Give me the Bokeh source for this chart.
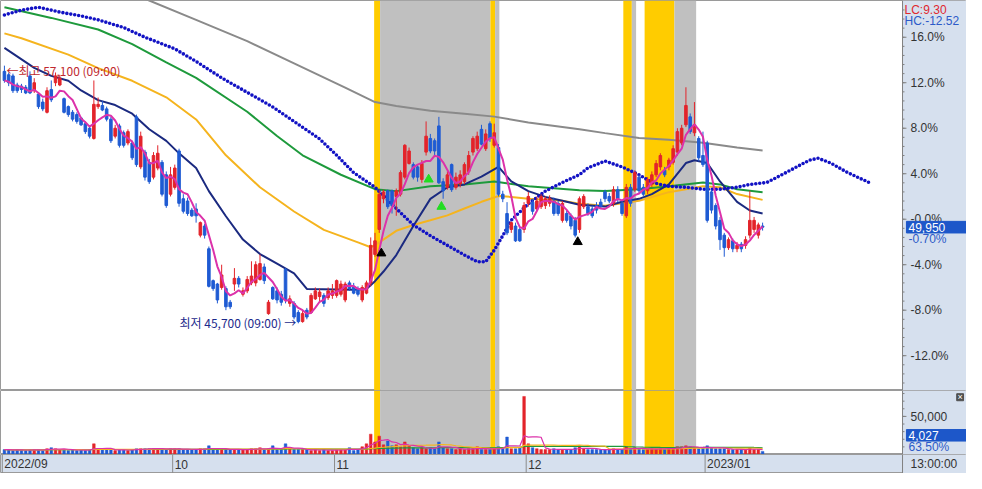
import pandas as pd
from bokeh.plotting import figure
from bokeh.layouts import column
from bokeh.models import Range1d, BoxAnnotation, Span, ColumnDataSource
from bokeh.embed import file_html
from bokeh.resources import INLINE
from bokeh.core.properties import value

# ---------------- data (percent change vs. base price) ----------------
opens = [13.0, 12.7, 12.6, 11.8, 11.7, 11.6, 12.6, 11.3, 11.0, 10.3,
         9.4, 11.4, 12.0, 11.8, 10.6, 9.9, 9.4, 9.2, 8.9, 8.4,
         8.0, 7.1, 9.9, 10.0, 9.7, 8.8, 7.3, 8.2, 7.6, 6.7,
         6.7, 9.0, 4.6, 5.9, 5.0, 3.7, 4.5, 5.0, 3.9, 2.2,
         2.8, 6.0, 1.8, 1.6, 0.8, 0.9, -1.4, -0.6, -2.6, -5.4,
         -5.7, -6.0, -6.1, -7.3, -5.7, -5.2, -6.6, -6.3, -5.6, -5.6,
         -5.3, -4.2, -8.3, -6.0, -6.3, -6.6, -4.4, -7.4, -7.4, -8.2,
         -9.0, -8.0, -8.2, -7.0, -6.8, -6.7, -6.9, -6.7, -6.7, -6.6,
         -7.1, -5.6, -5.9, -6.1, -7.1, -6.5, -5.6, -3.1, -0.9, 1.8,
         2.5, 2.5, 2.0, 2.2, 3.7, 4.9, 4.8, 4.6, 3.5, 5.9,
         7.1, 6.9, 8.2, 3.3, 2.8, 4.8, 2.8, 3.1, 3.3, 4.2,
         5.9, 6.2, 7.9, 6.2, 8.4, 6.5, 6.3, 2.2, 0.5, -0.9,
         -0.6, -0.9, -0.9, 1.4, 1.5, 0.9, 1.1, 1.2, 1.4, 1.6,
         1.4, -0.1, 0.5, 0.3, -0.1, -0.9, 1.1, 1.1, 0.9, 1.2,
         1.5, 2.4, 2.0, 1.4, 2.6, 1.4, 0.3, 2.8, 2.6, 3.7,
         2.8, 2.5, 3.1, 3.9, 4.6, 4.3, 4.6, 5.0, 5.9, 6.7,
         8.3, 9.0, 7.6, 7.1, 5.6, 6.7, 2.4, 1.2, -0.1, -1.4,
         -2.5, -1.9, -2.6, -2.2, -2.3, -1.4, -0.9, -1.4, -0.6]
highs = [13.5, 12.9, 12.8, 12.0, 11.9, 11.8, 13.0, 12.4, 11.1, 10.6,
         11.6, 12.2, 12.9, 12.7, 10.7, 10.0, 9.6, 9.4, 9.0, 8.6,
         8.2, 12.2, 10.7, 10.4, 9.9, 9.0, 8.3, 8.4, 7.8, 7.9,
         6.9, 9.2, 7.7, 6.1, 5.3, 5.9, 6.5, 5.2, 4.2, 4.6,
         4.8, 6.2, 2.2, 1.9, 1.0, 1.4, -0.2, -0.4, -2.4, -5.3,
         -5.6, -4.0, -5.9, -7.1, -4.3, -5.0, -6.0, -5.0, -3.7, -3.7,
         -3.1, -3.9, -7.1, -5.9, -6.0, -6.3, -4.3, -6.7, -7.2, -8.0,
         -8.0, -7.8, -6.5, -6.0, -6.1, -6.5, -6.0, -5.7, -5.3, -5.4,
         -5.5, -5.4, -5.6, -5.9, -5.8, -5.4, -1.6, -1.2, 2.6, 2.6,
         2.6, 2.6, 2.7, 4.3, 6.6, 6.3, 5.0, 4.8, 5.2, 8.6,
         7.5, 7.1, 9.0, 3.6, 4.2, 4.9, 4.1, 4.3, 5.0, 6.0,
         7.3, 7.7, 8.3, 7.9, 8.6, 8.4, 6.6, 2.5, 1.5, -0.2,
         -0.3, -0.7, 1.5, 2.4, 1.8, 2.0, 2.2, 2.0, 2.1, 1.9,
         1.6, 1.6, 0.8, 0.5, 0.2, 2.0, 2.2, 1.4, 1.2, 1.5,
         1.8, 2.6, 2.3, 2.9, 2.9, 1.6, 3.1, 3.1, 4.3, 3.9,
         3.1, 3.7, 4.2, 5.2, 5.8, 4.6, 5.4, 6.5, 8.0, 8.3,
         11.6, 9.3, 10.3, 7.3, 7.7, 6.9, 2.6, 1.4, 0.2, -1.2,
         -1.6, -1.7, -2.0, -2.0, -1.5, 2.5, 0.2, -0.3, -0.3]
lows = [12.0, 11.7, 11.1, 11.1, 11.1, 11.0, 11.0, 11.1, 9.7, 9.5,
        9.3, 10.3, 11.7, 11.7, 9.3, 9.0, 8.6, 8.4, 8.2, 7.5,
        7.1, 7.0, 9.7, 9.5, 8.6, 6.7, 7.1, 6.3, 6.3, 6.5,
        5.2, 4.6, 4.4, 3.4, 3.1, 3.5, 4.3, 2.0, 1.0, 2.0,
        2.6, 1.1, 0.5, 0.3, 0.2, -0.3, -1.6, -1.7, -6.0, -6.3,
        -7.4, -6.2, -8.0, -7.9, -6.3, -6.0, -6.8, -6.5, -5.8, -5.9,
        -5.4, -5.7, -8.4, -7.1, -7.4, -7.6, -7.4, -7.7, -8.8, -9.15,
        -9.1, -8.8, -8.3, -7.1, -7.3, -7.7, -7.1, -7.0, -6.9, -6.8,
        -7.3, -6.3, -6.6, -6.8, -7.3, -6.6, -5.9, -3.3, -1.2, 1.4,
        0.9, 0.5, 0.3, 2.0, 3.5, 4.8, 3.5, 3.3, 3.2, 5.6,
        5.8, 5.6, 3.1, 1.8, 2.6, 2.4, 2.6, 2.8, 3.1, 3.9,
        5.6, 6.0, 6.5, 6.0, 6.8, 6.3, 2.0, 1.5, -1.4, -1.2,
        -2.0, -2.0, -1.2, 1.1, 0.4, 0.7, 0.9, 0.9, 1.1, 0.3,
        0.3, -0.3, -0.3, -0.9, -1.6, -1.2, 0.9, 0.3, 0.1, 0.5,
        0.9, 1.5, 1.4, 1.1, 1.5, 0.3, 0.1, 1.1, 2.4, 2.2,
        2.0, 2.2, 2.8, 3.7, 4.3, 3.7, 4.3, 4.8, 5.6, 6.5,
        8.1, 7.5, 7.3, 5.1, 4.6, -0.3, 0.5, -0.9, -2.7, -3.3,
        -2.7, -2.9, -2.9, -2.9, -2.6, -1.7, -1.2, -1.7, -1.0]
closes = [12.2, 12.0, 11.3, 11.3, 11.4, 11.1, 11.1, 12.0, 9.9, 9.7,
          11.3, 10.5, 12.6, 12.4, 9.4, 9.2, 8.8, 8.6, 8.3, 7.7,
          7.3, 10.1, 10.1, 9.6, 8.8, 6.9, 8.0, 6.5, 6.5, 7.7,
          5.4, 4.8, 7.3, 3.7, 3.3, 5.6, 5.8, 2.2, 1.2, 3.9,
          4.5, 1.4, 0.7, 0.5, 0.3, 0.3, -0.3, -1.4, -5.9, -6.1,
          -7.1, -4.9, -7.7, -7.7, -5.2, -5.7, -6.3, -5.3, -5.0, -4.0,
          -3.9, -5.4, -7.3, -7.0, -7.1, -7.3, -7.1, -7.0, -8.6, -9.0,
          -8.3, -8.6, -6.7, -6.3, -6.4, -7.4, -6.3, -6.3, -5.4, -5.7,
          -5.7, -6.1, -6.5, -6.6, -6.0, -5.6, -2.3, -1.9, 2.2, 2.4,
          1.1, 1.2, 2.5, 4.1, 6.5, 6.0, 3.7, 3.7, 4.9, 7.3,
          6.0, 6.0, 3.2, 2.5, 3.9, 2.6, 3.7, 3.9, 4.8, 5.6,
          7.1, 7.3, 6.6, 7.5, 7.1, 7.6, 2.2, 1.8, -1.2, -0.3,
          -1.9, -1.9, 1.2, 2.0, 0.7, 1.6, 2.0, 1.8, 1.8, 0.5,
          0.5, 1.4, -0.1, -0.6, -1.4, 1.8, 2.0, 0.5, 0.3, 0.8,
          1.1, 1.8, 1.6, 2.6, 1.8, 0.5, 2.8, 1.4, 4.1, 2.5,
          2.2, 3.5, 3.9, 4.9, 5.6, 3.9, 5.2, 6.2, 7.7, 8.0,
          10.0, 7.7, 8.3, 5.4, 4.8, -0.1, 0.8, -0.6, -1.8, -2.5,
          -1.8, -2.6, -2.3, -2.6, -1.8, -0.1, -0.1, -0.5, -0.7]
volumes = [6400, 6400, 5100, 6400, 6400, 5100, 6400, 6400, 6400, 5100,
           7600, 8900, 7600, 6400, 6400, 5100, 6400, 5100, 6400, 5100,
           6400, 14000, 7600, 6400, 6400, 6400, 5100, 6400, 6400, 5100,
           6400, 7600, 7600, 7600, 7600, 7600, 7600, 7600, 6400, 7600,
           7600, 7600, 6400, 6400, 6400, 6400, 7600, 7600, 11400, 6400,
           6400, 7600, 6400, 6400, 6400, 6400, 6400, 6400, 7600, 7600,
           8900, 6400, 7600, 11400, 6400, 7600, 14000, 7600, 6400, 6400,
           6400, 6400, 5100, 6400, 5100, 6400, 5100, 5100, 6400, 6400,
           6400, 8900, 5100, 6400, 10200, 14000, 26700, 16500, 24100, 12700,
           17800, 11400, 12700, 10200, 16500, 11400, 8900, 7600, 8900, 7600,
           8900, 7600, 16500, 8900, 7600, 7600, 6400, 7600, 6400, 7600,
           7600, 10200, 6400, 6400, 6400, 7600, 10200, 8900, 22900, 7600,
           7600, 8900, 76200, 14000, 8900, 7600, 6400, 6400, 6400, 7600,
           6400, 6400, 6400, 6400, 8900, 11400, 7600, 6400, 6400, 6400,
           6400, 6400, 6400, 7600, 6400, 6400, 10200, 7600, 8900, 7600,
           6400, 6400, 7600, 7600, 8900, 6400, 7600, 8900, 10200, 10200,
           11400, 10200, 8900, 7600, 8900, 11400, 8900, 7600, 7600, 7600,
           6400, 6400, 6400, 6400, 6400, 8900, 6400, 6400, 4027]

# moving-average lines (candle index, percent)
ma20_idx = [0, 7, 11, 15, 18, 22, 26, 30, 34, 38, 41, 45, 48, 52, 56, 60, 64, 68, 71, 82,
            85, 87, 89, 92, 96, 100, 104, 108, 112, 116, 119, 123, 127, 131, 135, 141, 145,
            149, 152, 156, 160, 162, 165, 168, 172, 175, 178]
ma20_val = [15.06, 13.30, 12.60, 12.17, 11.32, 10.47, 10.04, 9.28, 7.91, 6.89, 5.79, 4.51,
            2.47, 0.26, -1.79, -3.06, -3.91, -4.77, -6.13, -6.21, -6.13, -5.45, -4.60, -3.15,
            -0.60, 1.79, 2.81, 3.06, 3.74, 4.60, 3.32, 2.47, 1.96, 1.62, 1.28, 1.11, 1.53,
            1.79, 2.21, 3.06, 4.94, 5.19, 4.94, 3.32, 1.53, 0.77, 0.51]
ma60_idx = [0, 4, 15, 22, 30, 38, 45, 52, 60, 68, 75, 83, 86, 88, 92, 96, 100, 104, 108,
            112, 116, 119, 123, 131, 135, 141, 149, 156, 164, 168, 172, 178]
ma60_val = [16.34, 15.91, 14.47, 13.28, 12.17, 10.72, 8.77, 5.62, 2.81, 0.68, -0.94, -2.04,
            -2.47, -2.04, -1.02, -0.51, -0.09, 0.34, 0.94, 1.53, 2.04, 1.96, 1.79, 1.62,
            1.36, 1.19, 1.62, 2.38, 2.89, 2.81, 2.21, 1.70]
ma120_idx = [0, 11, 22, 30, 38, 45, 57, 64, 70, 79, 87, 92, 100, 108, 115, 123, 135, 141,
             149, 156, 164, 168, 172, 178]
ma120_val = [18.64, 17.70, 16.68, 15.40, 13.79, 12.43, 9.45, 7.32, 5.62, 3.91, 2.64, 2.47,
             2.89, 3.06, 3.32, 2.89, 2.55, 2.47, 2.64, 2.89, 3.23, 3.06, 2.64, 2.38]
ma240_idx = [27, 34, 45, 57, 68, 80, 87, 92, 100, 108, 115, 123, 135, 141, 149, 156, 164,
             172, 178]
ma240_val = [20.26, 19.23, 17.53, 15.66, 13.70, 11.57, 10.30, 9.96, 9.53, 9.28, 9.02, 8.51,
             7.91, 7.57, 7.15, 6.98, 6.72, 6.30, 6.04]
lead_idx = [0, 4, 8, 13, 18, 22, 28, 33, 40, 45, 51, 57, 63, 68, 74, 78, 82, 87, 92, 96,
            100, 104, 108, 111, 113, 115, 117, 119, 123, 127, 131, 135, 137, 141, 145, 149,
            152, 156, 160, 164, 168, 172, 175, 179, 183, 186, 189, 191, 194, 198, 201, 203]
lead_val = [17.96, 18.38, 18.64, 18.21, 17.87, 17.53, 16.85, 16.00, 14.98, 13.87, 12.43,
            11.15, 9.87, 8.60, 7.06, 5.62, 4.09, 2.81, 0.94, -0.51, -1.45, -2.30, -3.15,
            -3.74, -3.74, -2.72, -1.45, -0.09, 1.36, 2.47, 3.23, 3.91, 4.51, 5.11, 4.60,
            3.91, 3.23, 2.89, 2.81, 2.64, 2.64, 2.81, 3.06, 3.23, 4.00, 4.60, 5.19, 5.36,
            4.94, 4.09, 3.57, 3.23]

# highlighted periods (candle index ranges)
band_start = [86.8, 88.2, 114.1, 115.2, 145.3, 147.3, 150.3, 157.3]
band_end = [88.2, 114.1, 115.2, 116.2, 147.3, 148.3, 157.3, 162.4]
band_kind = ["y", "g", "y", "g", "y", "g", "y", "g"]

# signal arrows
sig_idx = [88.5, 134.6, 99.6, 102.6]
sig_val = [-3.0, -2.0, 3.5, 1.1]
sig_kind = ["buy", "buy", "alt", "alt"]

pct_ticks = [-12, -8, -4, 0, 4, 8, 12, 16]
pct_labels = ["-12.0%", "-8.0%", "-4.0%", "-0.0%", "4.0%", "8.0%", "12.0%", "16.0%"]
vol_ticks = [50000]
vol_labels = ["50,000"]
month_pos = [-0.5, 39.5, 77.5, 122.5, 164.5]
month_labels = ["2022/09", "10", "11", "12", "2023/01"]
hi_text = "←최고 57,100 (09:00)"
lo_text = "최저 45,700 (09:00) →"
last_price = "49,950"
last_change = "-0.70%"
last_volume = "4,027"
volume_ratio = "63.50%"
lc_text = "LC:9.30"
hc_text = "HC:-12.52"
time_text = "13:00:00"

# ---------------- layout / styling constants ----------------
RED = "#E3242B"
BLUE = "#1F5BD3"
PANEL = "#D6E0EE"
YELLOW = "#FFCC00"
GREY = "#C0C0C0"
OUTLINE = "#9A9A9A"
AXIS = "#808080"
TXT = "#333333"
LBLUE = "#2C5AC8"
BOX = "#1D57C9"
KFONT = "Noto Sans CJK KR"
NFONT = "Liberation Sans"
W = 966
X0, X1 = -0.92, 225.87        # full canvas in candle-index units
PX = 210.85                   # start of the right-hand scale panel
TICK = 0.92                   # ~4 px in index units
XB = PX + TICK

n = len(closes)
xs = list(range(n))
colors = [RED if c >= o else BLUE for o, c in zip(opens, closes)]
src = ColumnDataSource(dict(
    x=xs, o=opens, h=highs, l=lows, c=closes,
    top=[max(o, c) for o, c in zip(opens, closes)],
    bottom=[min(o, c) for o, c in zip(opens, closes)],
    color=colors, vol=volumes,
))
ma5 = pd.Series(closes).rolling(5, min_periods=1).mean().tolist()
vma5 = pd.Series(volumes).rolling(5, min_periods=1).mean().tolist()
vma20 = pd.Series(volumes).rolling(20, min_periods=1).mean().tolist()
vma60 = pd.Series(volumes).rolling(60, min_periods=1).mean().tolist()

x_range = Range1d(X0, X1)


def base_fig(h, y_range, bg="white"):
    f = figure(width=W, height=h, x_range=x_range, y_range=y_range,
               output_backend="svg", toolbar_location=None,
               x_axis_location=None, y_axis_location=None,
               min_border_left=0, min_border_top=0, min_border_bottom=0,
               min_border_right=0, background_fill_color=bg,
               border_fill_color=PANEL, outline_line_color=OUTLINE)
    f.grid.visible = False
    f.add_layout(BoxAnnotation(left=PX, fill_color=PANEL, fill_alpha=1.0,
                               line_alpha=0, level="underlay"))
    f.add_layout(Span(location=PX, dimension="height", line_color=AXIS, line_width=1))
    return f


def add_bands(f):
    for s, e, k in zip(band_start, band_end, band_kind):
        f.add_layout(BoxAnnotation(left=s, right=e, fill_color=YELLOW if k == "y" else GREY,
                                   fill_alpha=1.0, line_alpha=0, level="underlay"))


def add_scale(f, ticks, labels, minor):
    f.segment(x0=[PX] * len(minor), y0=minor, x1=[PX + TICK / 2] * len(minor), y1=minor,
              color=AXIS, line_width=1)
    f.segment(x0=[PX] * len(ticks), y0=ticks, x1=[XB] * len(ticks), y1=ticks,
              color=AXIS, line_width=1)
    f.text(x=[PX] * len(ticks), y=ticks, text=labels, text_font=value(NFONT),
           text_font_size="12px", text_color=TXT, text_baseline="middle",
           text_align="left", x_offset=8)


# ---------------- main price panel ----------------
y_lo, y_hi = -15.06, 19.23
p = base_fig(390, Range1d(y_lo, y_hi))
add_bands(p)
add_scale(p, pct_ticks, pct_labels, [round(-14.4 + 0.8 * k, 1) for k in range(42)])

p.line(ma240_idx, ma240_val, color="#8A8A8A", line_width=2)
p.line(ma120_idx, ma120_val, color="#1E9A3C", line_width=2)
p.line(ma60_idx, ma60_val, color="#F5B41E", line_width=2)
p.line(ma20_idx, ma20_val, color="#1B2A80", line_width=2)
p.line(lead_idx, lead_val, color="#1212C4", line_width=3.6, line_dash="0 4", line_cap="round")

p.segment(x0="x", y0="l", x1="x", y1="h", color="color", line_width=1, source=src)
p.vbar(x="x", width=0.6, top="top", bottom="bottom", fill_color="color",
       line_color="color", line_width=1, source=src)
p.line(xs, ma5, color="#DC32AA", line_width=2)

buy_i = [i for i, k in zip(sig_idx, sig_kind) if k == "buy"]
buy_v = [v for v, k in zip(sig_val, sig_kind) if k == "buy"]
alt_i = [i for i, k in zip(sig_idx, sig_kind) if k == "alt"]
alt_v = [v for v, k in zip(sig_val, sig_kind) if k == "alt"]
p.scatter(buy_i, buy_v, marker="triangle", size=9, color="black")
p.scatter(alt_i, alt_v, marker="triangle", size=9, color="#22DD22")

hi_i = highs.index(max(highs))
lo_i = lows.index(min(lows))
p.text(x=[hi_i], y=[highs[hi_i]], text=[hi_text], text_font=value(KFONT),
       text_font_size="12px", text_color="#C0282E", text_baseline="middle",
       text_align="left", x_offset=2, y_offset=5)
p.text(x=[lo_i], y=[lows[lo_i]], text=[lo_text], text_font=value(KFONT),
       text_font_size="12px", text_color="#1C2A8C", text_baseline="middle",
       text_align="right", x_offset=-2, y_offset=-1)

# right panel extras
p.text(x=[PX, PX], y=[y_hi, y_hi], text=[lc_text, hc_text], text_font=value(NFONT),
       text_font_size="12px", text_color=["#E0282E", LBLUE], text_baseline="top",
       text_align="left", x_offset=2, y_offset=[2, 13])
last_c = closes[-1]
p.quad(left=[XB], right=[X1], top=[last_c + 0.51], bottom=[last_c - 0.51],
       fill_color=BOX, line_color=BOX)
p.text(x=[PX], y=[last_c], text=[last_price], text_font=value(NFONT),
       text_font_size="12px", text_color="white", text_baseline="middle",
       text_align="left", x_offset=6)
p.text(x=[PX], y=[last_c], text=[last_change], text_font=value(NFONT),
       text_font_size="12px", text_color=LBLUE, text_baseline="middle",
       text_align="left", x_offset=6, y_offset=12)

# ---------------- volume panel ----------------
v_hi = 84000
pv = base_fig(64, Range1d(0, v_hi))
add_bands(pv)
add_scale(pv, vol_ticks, vol_labels, [10000 * k for k in range(1, 9)])
pv.vbar(x="x", width=0.62, top="vol", bottom=0, fill_color="color", line_color="color",
        line_width=0.5, source=src)
pv.line(xs, vma60, color="#1E9A3C", line_width=1.2)
pv.line(xs, vma20, color="#F5B41E", line_width=1.2)
pv.line(xs, vma5, color="#DC32AA", line_width=1.2)
box_mid = 0.30 * v_hi
pv.quad(left=[XB], right=[X1], top=[box_mid + 0.09 * v_hi], bottom=[box_mid - 0.09 * v_hi],
        fill_color=BOX, line_color=BOX)
pv.text(x=[PX], y=[box_mid], text=[last_volume], text_font=value(NFONT),
        text_font_size="12px", text_color="white", text_baseline="middle",
        text_align="left", x_offset=6)
pv.text(x=[PX], y=[box_mid], text=[volume_ratio], text_font=value(NFONT),
        text_font_size="12px", text_color=LBLUE, text_baseline="middle",
        text_align="left", x_offset=6, y_offset=12)
pv.quad(left=[X1 - 2.3], right=[X1 - 0.7], top=[0.95 * v_hi], bottom=[0.84 * v_hi],
        fill_color="#505050", line_color="#505050")
pv.text(x=[X1 - 1.5], y=[0.895 * v_hi], text=["×"], text_font=value(NFONT),
        text_font_size="9px", text_color="white", text_baseline="middle", text_align="center")

# ---------------- date axis bar ----------------
pa = base_fig(19, Range1d(0, 1), bg=PANEL)
pa.segment(x0=month_pos, y0=[0] * len(month_pos), x1=month_pos, y1=[1] * len(month_pos),
           color="#8C8C8C", line_width=1)
pa.text(x=month_pos, y=[0.5] * len(month_pos), text=month_labels, text_font=value(NFONT),
        text_font_size="12px", text_color=TXT, text_baseline="middle",
        text_align="left", x_offset=2)
pa.text(x=[PX], y=[0.5], text=[time_text], text_font=value(NFONT),
        text_font_size="12px", text_color=TXT, text_baseline="middle",
        text_align="left", x_offset=8)

layout = column(p, pv, pa, spacing=0)
open("out.html", "w").write(file_html(layout, INLINE))
